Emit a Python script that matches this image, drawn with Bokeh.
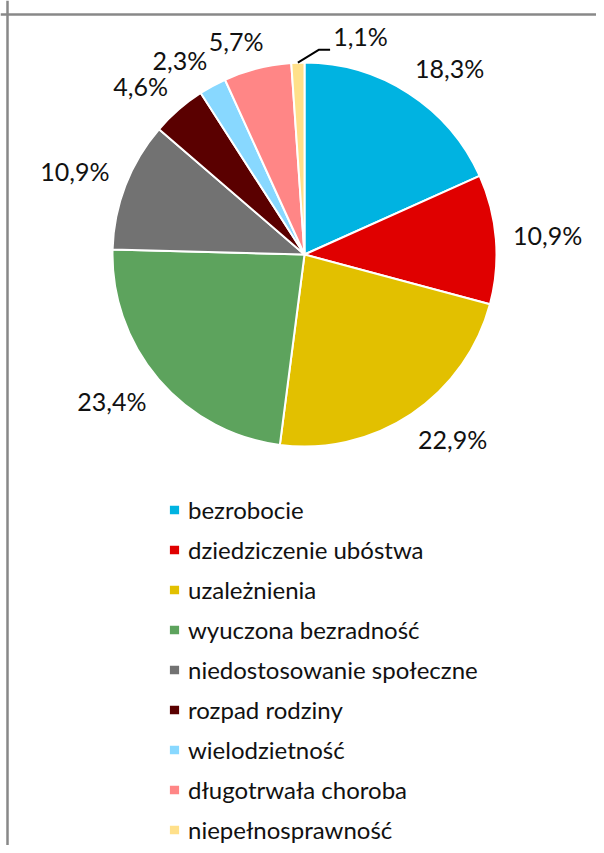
import numpy as np
from bokeh.plotting import figure
from bokeh.models import ColumnDataSource, Range1d, Span, Legend, LegendItem
from bokeh.core.properties import value
from bokeh.embed import file_html
from bokeh.resources import INLINE

# ---------------- data ----------------
categories = ["bezrobocie", "dziedziczenie ubóstwa", "uzależnienia",
              "wyuczona bezradność", "niedostosowanie społeczne",
              "rozpad rodziny", "wielodzietność", "długotrwała choroba",
              "niepełnosprawność"]
shares = [18.3, 10.9, 22.9, 23.4, 10.9, 4.6, 2.3, 5.7, 1.1]
colors = ["#00B3E1", "#E00000", "#E2C000", "#5DA35D", "#727272",
          "#5A0000", "#88D8FF", "#FF8686", "#FFE08A"]

# ---------------- layout constants (pixels) ----------------
W, H = 596, 845
CX, CY = 304, 591          # pie centre
R = 192                    # pie radius
LABEL_R = 211
FONT = "Lato"

vals = np.array(shares, dtype=float)
frac = vals / vals.sum()
cum = np.cumsum(frac)
start = np.pi / 2 - 2 * np.pi * np.concatenate([[0], cum[:-1]])
end = np.pi / 2 - 2 * np.pi * cum
mid = (start + end) / 2

labels = [f"{v:.1f}".replace(".", ",") + "%" for v in shares]

src = ColumnDataSource(dict(cat=categories, share=shares, color=colors,
                            start=start, end=end))

p = figure(width=W, height=H, x_range=Range1d(0, W), y_range=Range1d(0, H),
           min_border=0, toolbar_location=None, output_backend="svg")
p.axis.visible = False
p.grid.visible = False
p.outline_line_color = None
p.background_fill_color = "white"
p.border_fill_color = "white"

wr = p.wedge(x=CX, y=CY, radius=R, start_angle="start", end_angle="end",
             direction="clock", fill_color="color", line_color="white",
             line_width=2, source=src)

# ---------------- data labels ----------------
lx, ly, lead_x, lead_y = [], [], [], []
for i, (a, t) in enumerate(zip(mid, labels)):
    hw = 6.6 * len(t)
    hh = 9.5
    x = LABEL_R * np.cos(a) + hw * np.tanh(3 * np.cos(a))
    y = LABEL_R * np.sin(a) + hh * np.tanh(3 * np.sin(a))
    if shares[i] < 2:                      # tiny slice: label moved aside with leader
        x += 66
        y -= 2
        lead_x.append([CX + R * np.cos(a), CX + x - hw - 15, CX + x - hw - 4])
        lead_y.append([CY + R * np.sin(a), CY + y - 13.5, CY + y - 13.5])
    lx.append(CX + x)
    ly.append(CY + y)

lsrc = ColumnDataSource(dict(x=lx, y=ly, text=labels))
p.text(x="x", y="y", text="text", source=lsrc, text_font=value(FONT),
       text_font_size="25px", text_color="#111111", text_align="center",
       text_baseline="middle")
if lead_x:
    p.multi_line(xs=lead_x, ys=lead_y, line_color="black", line_width=2)

# ---------------- frame lines (left & top) ----------------
p.add_layout(Span(location=7, dimension="height", line_color="#888888", line_width=2.5))
p.add_layout(Span(location=H - 14, dimension="width", line_color="#888888", line_width=2.5))

# ---------------- legend ----------------
items = [LegendItem(label=c, renderers=[wr], index=i) for i, c in enumerate(categories)]
legend = Legend(items=items, location=(167, 1), orientation="vertical",
                glyph_width=14, glyph_height=13, label_standoff=7,
                label_text_font=FONT, label_text_font_size="24px",
                label_text_color="#111111", label_height=30, spacing=10,
                padding=0, margin=0, border_line_color=None,
                background_fill_alpha=0)
p.add_layout(legend)

open("out.html", "w").write(file_html(p, INLINE))
